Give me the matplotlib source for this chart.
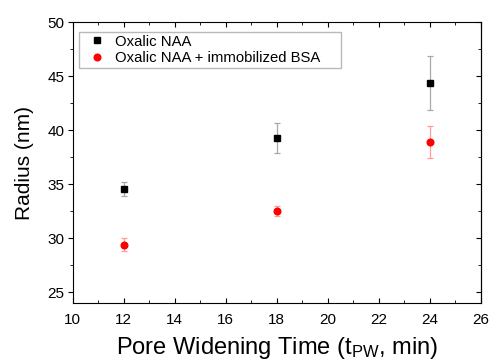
import numpy as np
import matplotlib.pyplot as plt

plt.rcParams['font.family'] = ['Liberation Sans', 'DejaVu Sans']
plt.rcParams['mathtext.fontset'] = 'custom'
plt.rcParams['mathtext.rm'] = 'Liberation Sans'
plt.rcParams['mathtext.it'] = 'Liberation Sans'

# pore widening time (min)
t_pw = [12, 18, 24]
# radius (nm), oxalic NAA
naa_r = [34.6, 39.25, 44.35]
naa_err = [0.65, 1.4, 2.5]
# radius (nm), oxalic NAA + immobilized BSA
bsa_r = [29.4, 32.55, 38.9]
bsa_err = [0.6, 0.45, 1.45]

fig = plt.figure(figsize=(4.92, 3.63), dpi=100)
ax = fig.add_axes([0.148, 0.165, 0.829, 0.774])

ax.errorbar(t_pw, naa_r, yerr=naa_err, fmt='none', ecolor='#a8a8a8',
            elinewidth=0.9, capsize=2.5, capthick=0.9)
ax.plot(t_pw, naa_r, 's', color='black', ms=4, label='Oxalic NAA')
ax.errorbar(t_pw, bsa_r, yerr=bsa_err, fmt='none', ecolor='#ff9a9a',
            elinewidth=0.9, capsize=2.5, capthick=0.9)
ax.plot(t_pw, bsa_r, 'o', color='red', ms=4.8,
        label='Oxalic NAA + immobilized BSA')

ax.set_xlim(10, 26)
ax.set_ylim(24, 50)
ax.set_xticks(np.arange(10, 27, 2))
ax.set_xticks(np.arange(10, 27, 1), minor=True)
ax.set_yticks(np.arange(25, 51, 5))
ax.set_yticks(np.arange(25, 50.1, 2.5), minor=True)

ax.tick_params(axis='x', which='both', direction='in', top=True, labelsize=11, pad=7)
ax.tick_params(axis='y', which='both', direction='out', labelsize=11, pad=2.5)
ax.tick_params(which='major', length=3.5)
ax.tick_params(which='minor', length=2)
# right side ticks point inward
ax2 = ax.secondary_yaxis('right')
ax2.set_yticks(np.arange(25, 51, 5))
ax2.set_yticks(np.arange(25, 50.1, 2.5), minor=True)
ax2.tick_params(which='both', direction='in', labelright=False)
ax2.tick_params(which='major', length=3.5)
ax2.tick_params(which='minor', length=2)

ax.set_xlabel('Pore Widening Time (t$_{\\rm PW}$, min)', fontsize=17, labelpad=6)
ax.set_ylabel('Radius (nm)', fontsize=15, labelpad=10)

leg = ax.legend(loc='upper left', bbox_to_anchor=(0.0147, 0.966, 0.644, 0.0),
                mode='expand', fontsize=10.7, frameon=True, fancybox=False,
                edgecolor='#a8a8a8', handlelength=2.0, handletextpad=0.23,
                borderpad=0.2, labelspacing=0.15, borderaxespad=0)
leg.get_frame().set_linewidth(1)

fig.savefig('out.png', dpi=100)
